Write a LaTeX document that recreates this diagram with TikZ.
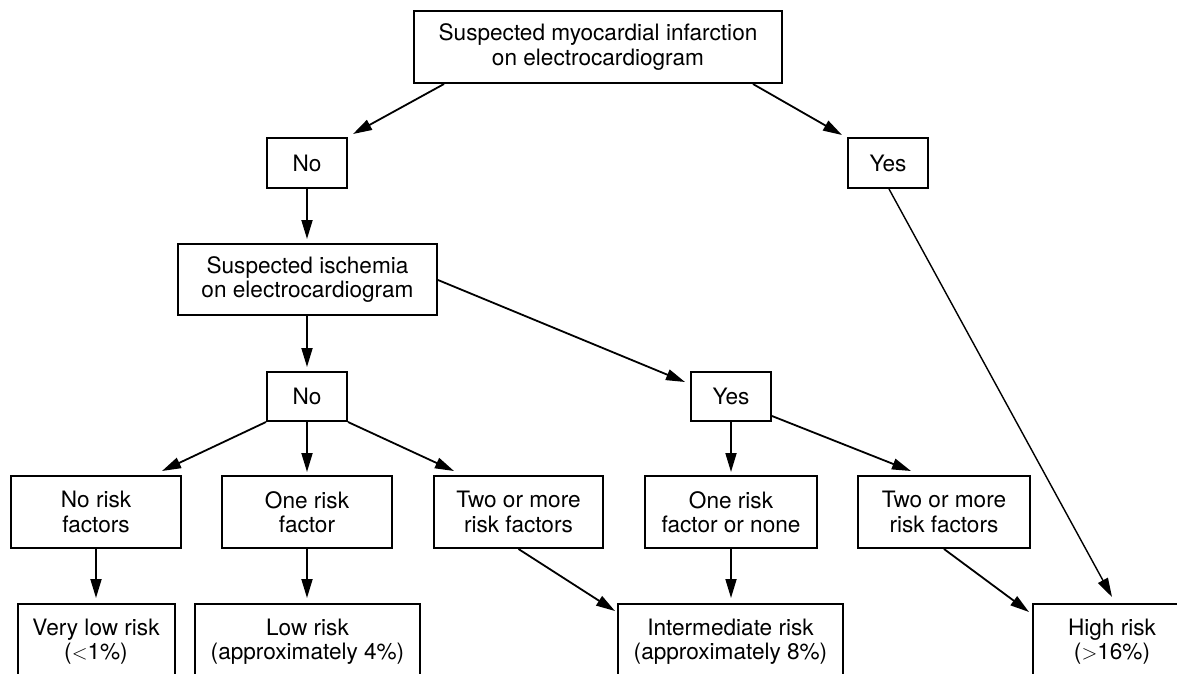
\documentclass[tikz,border=0pt]{standalone}
\usepackage{fontspec}
\setmainfont{TeX Gyre Heros}
\usetikzlibrary{arrows.meta}
\tikzset{
  box/.style={draw, line width=2pt, align=center, inner sep=0pt,
    font=\fontsize{22.6}{24.5}\selectfont},
  arr/.style={line width=1.8pt, -{Triangle[length=19pt,width=11pt]}},
  thinarr/.style={line width=1.4pt, -{Triangle[length=19pt,width=11pt]}}
}
\begin{document}
\begin{tikzpicture}[x=1pt,y=-1pt]
\path[use as bounding box, clip] (0,0) rectangle (1177,673);
\fill[white] (0,0) rectangle (1177,673);
% nodes
\node[box, minimum width=368pt, minimum height=72pt] (top) at (598,47) {Suspected myocardial infarction\\on electrocardiogram};
\node[box, minimum width=80pt, minimum height=50pt] (no1) at (307,163) {No};
\node[box, minimum width=80pt, minimum height=50pt] (yes1) at (888,163) {Yes};
\node[box, minimum width=259pt, minimum height=71pt] (isch) at (307.5,279.5) {Suspected ischemia\\on electrocardiogram};
\node[box, minimum width=80pt, minimum height=49pt] (no2) at (307,396.5) {No};
\node[box, minimum width=80pt, minimum height=49pt] (yes2) at (731,396.5) {Yes};
\node[box, minimum width=170pt, minimum height=72pt] (nrf) at (96,512) {No risk\\factors};
\node[box, minimum width=170pt, minimum height=72pt] (orf) at (307,512) {One risk\\factor};
\node[box, minimum width=169pt, minimum height=72pt] (tmrf1) at (518.5,512) {Two or more\\risk factors};
\node[box, minimum width=172pt, minimum height=72pt] (orfn) at (731,512) {One risk\\factor or none};
\node[box, minimum width=172pt, minimum height=72pt] (tmrf2) at (944,512) {Two or more\\risk factors};
\node[box, minimum width=157pt, minimum height=75pt] (vlr) at (96,641.5) {Very low risk\\(${<}$1\%)};
\node[box, minimum width=225pt, minimum height=75pt] (lr) at (307.5,641.5) {Low risk\\(approximately 4\%)};
\node[box, minimum width=225pt, minimum height=75pt] (ir) at (730.5,641.5) {Intermediate risk\\(approximately 8\%)};
\node[box, minimum width=158pt, minimum height=75pt] (hr) at (1112,641.5) {High risk\\(${>}$16\%)};
% connectors
\draw[arr] ([xshift=31pt]top.south west) -- ([xshift=5pt,yshift=3pt]no1.north east);
\draw[arr] ([xshift=-30pt]top.south east) -- ([xshift=-5pt,yshift=2pt]yes1.north west);
\draw[arr, shorten >=4pt] (no1.south) -- (isch.north -| no1.south);
\draw[arr, shorten >=4pt] (isch.south -| no2.north) -- (no2.north);
\draw[arr] ([yshift=-0.5pt]isch.east) -- ([xshift=-5pt,yshift=-11pt]yes2.north west);
\draw[arr] (no2.south west) -- ([xshift=-20pt,yshift=4pt]nrf.north east);
\draw[arr, shorten >=3pt] (no2.south) -- (no2.south |- orf.north);
\draw[arr] (no2.south east) -- ([xshift=21pt,yshift=4pt]tmrf1.north west);
\draw[arr, shorten >=3pt] (yes2.south) -- (yes2.south |- orfn.north);
\draw[arr] ([yshift=6pt]yes2.south east) -- ([xshift=54pt,yshift=4pt]tmrf2.north west);
\draw[arr, shorten >=5pt] (nrf.south) -- (nrf.south |- vlr.north);
\draw[arr, shorten >=5pt] (orf.south) -- (orf.south |- lr.north);
\draw[arr] (tmrf1.south) -- ([xshift=-2pt,yshift=-8pt]ir.north west);
\draw[arr, shorten >=5pt] (orfn.south) -- (orfn.south |- ir.north);
\draw[arr] (tmrf2.south) -- ([xshift=-3pt,yshift=-9pt]hr.north west);
\draw[thinarr] ([xshift=1pt]yes1.south) -- ([yshift=6pt]hr.north);
\end{tikzpicture}
\end{document}
